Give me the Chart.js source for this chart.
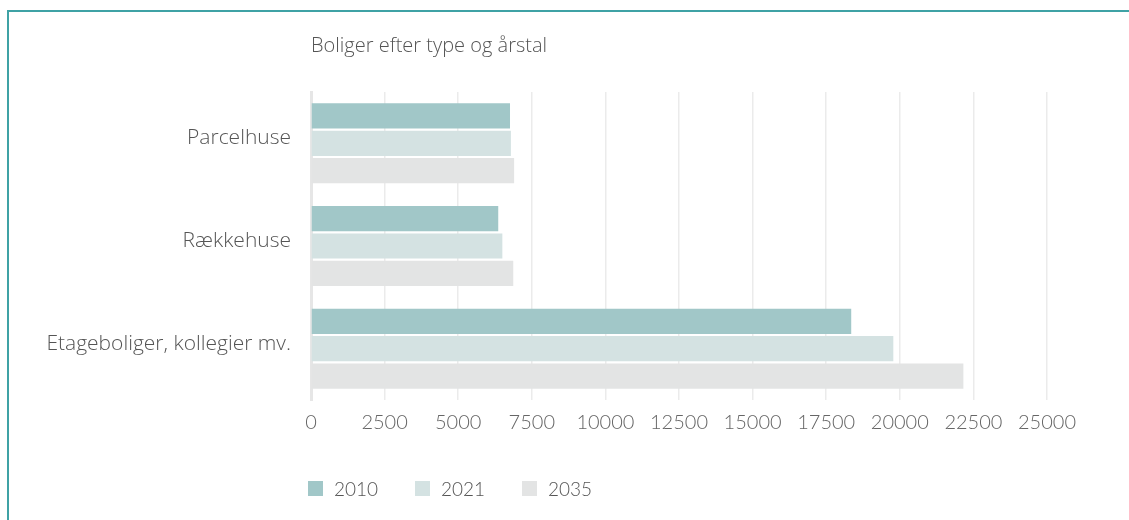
<!DOCTYPE html>
<html>
<head>
<meta charset="utf-8">
<script src="https://cdn.jsdelivr.net/npm/chart.js@4"></script>
<style>
    body { margin: 0; background: #fff; }
    #wrap { position: relative; width: 1129px; height: 520px; overflow: hidden; }
    #frame {
        position: absolute; left: 7px; top: 10px; width: 1200px; height: 600px;
        border-top: 2px solid #3fa2a5; border-left: 2px solid #3fa2a5;
    }
    #chart { position: absolute; left: 0; top: 0; }
    #legend {
        position: absolute; left: 308px; top: 477px; display: flex;
        font-family: Lato, sans-serif; font-size: 19px; font-weight: 300; color: #555;
    }
    .item { display: flex; align-items: center; width: 107px; }
    .box { width: 15px; height: 15px; margin-right: 11px; }
</style>
</head>
<body>
<div id="wrap">
    <div id="frame"></div>
    <canvas id="chart" width="1129" height="520"></canvas>
    <div id="legend"></div>
</div>
<script>
// Boliger efter type og årstal
const categories = ['Parcelhuse', 'Rækkehuse', 'Etageboliger, kollegier mv.'];
const years = ['2010', '2021', '2035'];
const values2010 = [6760, 6360, 18350];
const values2021 = [6790, 6500, 19780];
const values2035 = [6900, 6870, 22160];
const xTicks = [0, 2500, 5000, 7500, 10000, 12500, 15000, 17500, 20000, 22500, 25000];
const colors = ['#a1c7c8', '#d4e2e2', '#e3e4e4'];

const series = [values2010, values2021, values2035];

const ctx = document.getElementById('chart').getContext('2d');
const chart = new Chart(ctx, {
    type: 'bar',
    data: {
        labels: categories,
        datasets: years.map((y, i) => ({
            label: y,
            data: series[i],
            backgroundColor: colors[i],
            borderWidth: 0,
            categoryPercentage: 0.8,
            barPercentage: 0.92
        }))
    },
    options: {
        indexAxis: 'y',
        responsive: false,
        animation: false,
        layout: {
            padding: { left: 0, right: 82, top: 0, bottom: 0 }
        },
        plugins: {
            legend: { display: false },
            tooltip: { enabled: false },
            title: {
                display: true,
                text: 'Boliger efter type og årstal',
                align: 'start',
                fullSize: false,
                color: '#555',
                font: { size: 20, family: 'Open Sans', weight: '300' },
                padding: { top: 34, bottom: 34 }
            }
        },
        scales: {
            x: {
                min: 0,
                max: 25000,
                afterBuildTicks: function(axis) {
                    axis.ticks = xTicks.map(v => ({ value: v }));
                },
                afterFit: function(axis) {
                    axis.height = 120;
                },
                ticks: {
                    padding: 11,
                    color: '#666',
                    maxRotation: 0,
                    autoSkip: false,
                    font: { size: 20, family: 'Lato', weight: '300' },
                    callback: function(value) {
                        return value;
                    }
                },
                grid: {
                    color: '#ebebeb',
                    lineWidth: 1.5,
                    drawTicks: false
                },
                border: { display: false }
            },
            y: {
                afterFit: function(axis) {
                    axis.width = 311;
                },
                ticks: {
                    padding: 20,
                    labelOffset: -5,
                    color: '#555',
                    font: { size: 21, family: 'Open Sans', weight: '300' }
                },
                grid: { display: false, drawTicks: false },
                border: { color: '#e6e6e6', width: 3 }
            }
        }
    }
});

// legend below the chart, left aligned with the plot
const legendEl = document.getElementById('legend');
years.forEach((y, i) => {
    const item = document.createElement('div');
    item.className = 'item';
    const box = document.createElement('span');
    box.className = 'box';
    box.style.background = colors[i];
    const txt = document.createElement('span');
    txt.textContent = y;
    item.appendChild(box);
    item.appendChild(txt);
    legendEl.appendChild(item);
});
</script>
</body>
</html>
